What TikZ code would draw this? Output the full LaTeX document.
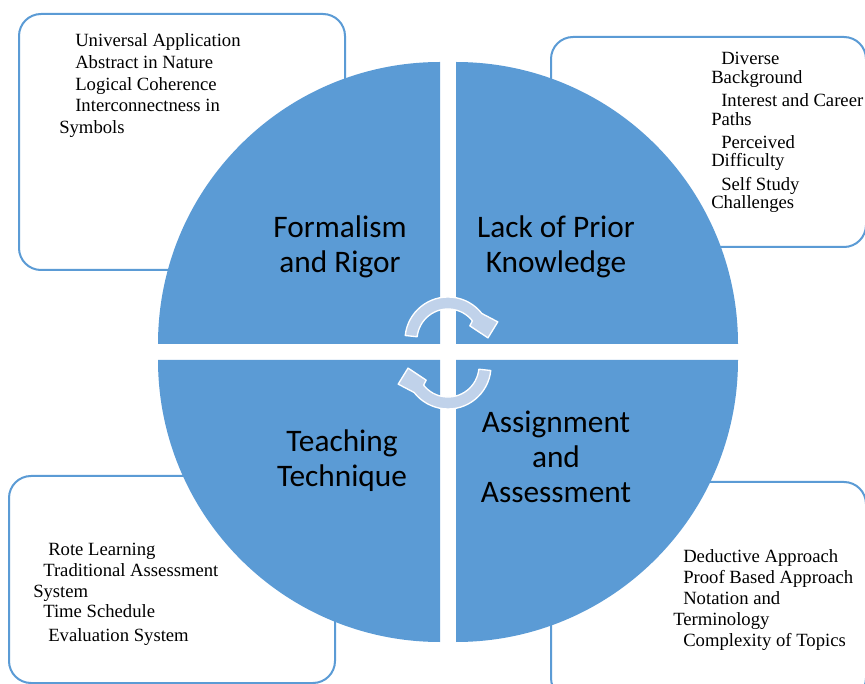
\documentclass[tikz,border=0pt]{standalone}
\usepackage{fontspec}
\setmainfont{Liberation Serif}
\newfontfamily\labelfont{Carlito}
\definecolor{pieblue}{HTML}{5B9BD5}
\definecolor{cyclefill}{HTML}{C0D2EA}
\tikzset{
  quadrant/.style={fill=pieblue, draw=none},
  notebox/.style={draw=pieblue, line width=1.5pt, fill=white, rounded corners=16.5pt},
  notes/.style={anchor=base west, inner sep=0pt},
  quadlabel/.style={anchor=base, inner sep=0pt, text=black,
    font=\labelfont\fontsize{23.5}{26.25}\selectfont},
  cyclearrow/.style={fill=cyclefill, draw=white, line width=1pt, line join=round},
}
\begin{document}
\begin{tikzpicture}[x=0.75pt, y=-0.75pt]
  \useasboundingbox (0,0) rectangle (865,684);

  % note boxes behind the pie
  \draw[notebox] (19,14) rectangle (345,270);
  \draw[notebox] (551,37) rectangle (866,247);
  \draw[notebox] (9,476) rectangle (335,683);
  \draw[notebox] (551,482) rectangle (866,700);

  % four quadrants of the pie, separated by a white cross
  \fill[quadrant] (440,344) -- ++(180:282) arc[start angle=180, end angle=270, radius=282] -- cycle;
  \fill[quadrant] (456,344) -- ++(270:282) arc[start angle=270, end angle=360, radius=282] -- cycle;
  \fill[quadrant] (456,360) -- ++(0:282) arc[start angle=0, end angle=90, radius=282] -- cycle;
  \fill[quadrant] (440,360) -- ++(90:282) arc[start angle=90, end angle=180, radius=282] -- cycle;

  % circular arrows in the middle
  \begin{scope}[shift={(448,340)}]
    \draw[cyclearrow] (186:43) arc[start angle=186, end angle=322, radius=43]
      -- (340:53) -- (357:40) -- (327:26) -- (322:31)
      arc[start angle=322, end angle=186, radius=31] -- cycle;
  \end{scope}
  \begin{scope}[shift={(448,366)}, rotate=180]
    \draw[cyclearrow] (186:43) arc[start angle=186, end angle=322, radius=43]
      -- (340:53) -- (357:40) -- (327:26) -- (322:31)
      arc[start angle=322, end angle=186, radius=31] -- cycle;
  \end{scope}

  % quadrant titles
  \node[quadlabel] (formal) at (340,238) {\begin{tabular}[t]{@{}c@{}}Formalism\\and Rigor\end{tabular}};
  \node[quadlabel] (prior) at (556,238) {\begin{tabular}[t]{@{}c@{}}Lack of Prior\\Knowledge\end{tabular}};
  \node[quadlabel] (teach) at (342,452) {\begin{tabular}[t]{@{}c@{}}Teaching\\Technique\end{tabular}};
  \node[quadlabel] (assign) at (556,433) {\begin{tabular}[t]{@{}c@{}}Assignment\\and\\Assessment\end{tabular}};

  % notes
  \node[notes, font=\fontsize{14}{16.2}\selectfont] (formalnotes) at (59,47)
    {\begin{tabular}[t]{@{}l@{}}
      \hspace*{12pt}Universal Application\\
      \hspace*{12pt}Abstract in Nature\\
      \hspace*{12pt}Logical Coherence\\
      \hspace*{12pt}Interconnectness in\\
      Symbols
    \end{tabular}};
  \node[notes, font=\fontsize{14}{13.9}\selectfont] (priornotes) at (711,65)
    {\begin{tabular}[t]{@{}l@{}}
      \hspace*{7.5pt}Diverse\\
      Background\\[3.4pt]
      \hspace*{7.5pt}Interest and Career\\
      Paths\\[3.4pt]
      \hspace*{7.5pt}Perceived\\
      Difficulty\\[3.4pt]
      \hspace*{7.5pt}Self Study\\
      Challenges
    \end{tabular}};
  \node[notes, font=\fontsize{14}{15.4}\selectfont] (teachnotes) at (33,556)
    {\begin{tabular}[t]{@{}l@{}}
      \hspace*{11.25pt}Rote Learning\\
      \hspace*{7.5pt}Traditional Assessment\\
      System\\
      \hspace*{7.5pt}Time Schedule\\[2.5pt]
      \hspace*{11.25pt}Evaluation System
    \end{tabular}};
  \node[notes, font=\fontsize{14}{15.9}\selectfont] (assignnotes) at (673,562)
    {\begin{tabular}[t]{@{}l@{}}
      \hspace*{7.5pt}Deductive Approach\\
      \hspace*{7.5pt}Proof Based Approach\\
      \hspace*{7.5pt}Notation and\\
      Terminology\\
      \hspace*{7.5pt}Complexity of Topics
    \end{tabular}};
\end{tikzpicture}
\end{document}
